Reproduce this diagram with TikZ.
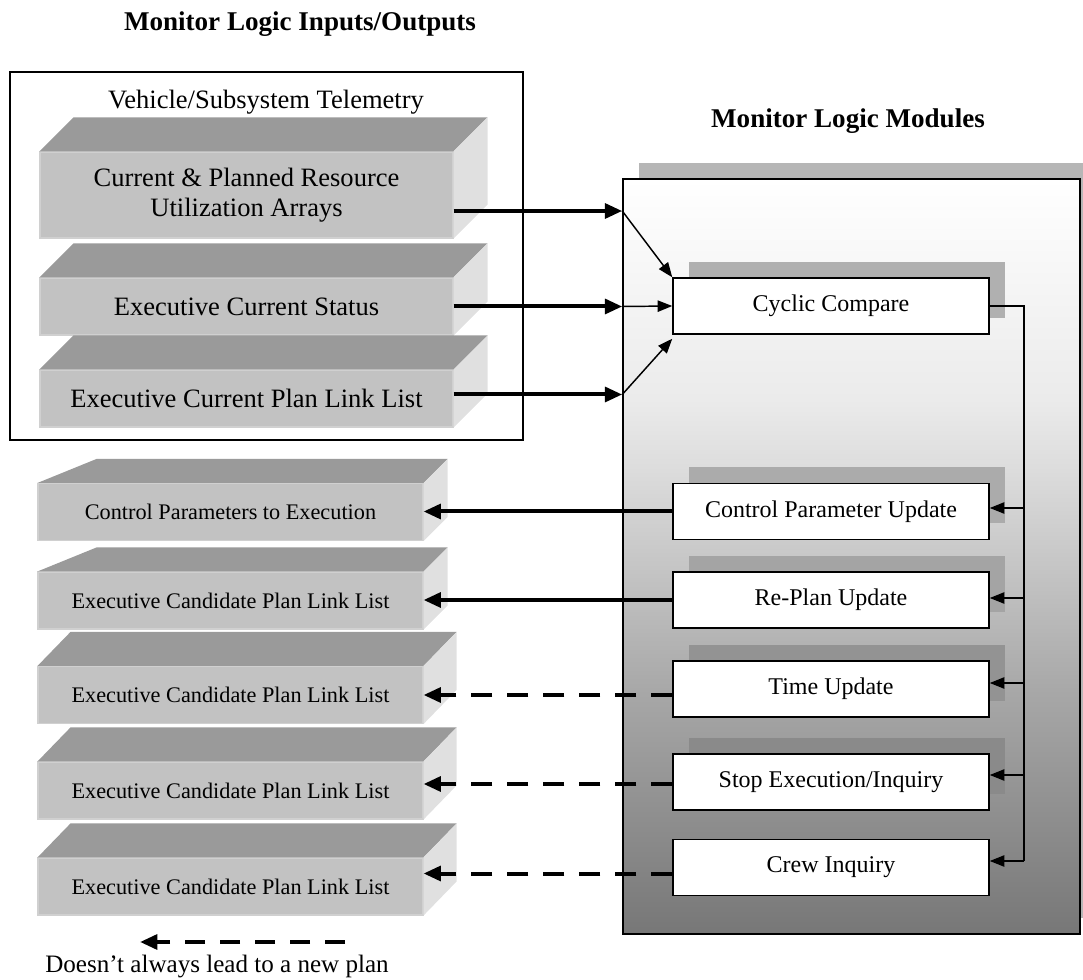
\documentclass[tikz,border=0pt]{standalone}
\usepackage{fontspec}
\setmainfont{Liberation Serif}
\usetikzlibrary{arrows.meta,calc,shadows}
\definecolor{topc}{HTML}{9A9A9A}
\definecolor{frontc}{HTML}{C2C2C2}
\definecolor{frontedge}{HTML}{D0D0D0}
\definecolor{sidec}{HTML}{E0E0E0}
\definecolor{pshadow}{HTML}{B6B6B6}
\definecolor{shA}{HTML}{B0B0B0}
\definecolor{shB}{HTML}{ABABAB}
\definecolor{shC}{HTML}{A4A4A4}
\definecolor{shD}{HTML}{939393}
\definecolor{shE}{HTML}{8A8A8A}
\definecolor{gA}{HTML}{777777}
\definecolor{gB}{HTML}{A8A8A8}
\definecolor{gC}{HTML}{DCDCDC}
\definecolor{gD}{HTML}{EBEBEB}
\definecolor{gE}{HTML}{FFFFFF}
\pgfdeclareverticalshading{panelshade}{100bp}{color(0bp)=(gA); color(25bp)=(gA); color(41.2bp)=(gB); color(55.7bp)=(gC); color(60.4bp)=(gD); color(75bp)=(gE); color(100bp)=(gE)}
\newcommand\fsTop{\fontsize{19.9pt}{22.5pt}\selectfont}
\newcommand\fsTitle{\bfseries\fontsize{20.3pt}{24pt}\selectfont}
\newcommand\fsLow{\fontsize{16.7pt}{20pt}\selectfont}
\newcommand\fsMod{\fontsize{18pt}{21pt}\selectfont}
\newcommand\fsLeg{\fontsize{18.8pt}{22pt}\selectfont}
\newcommand\slabfaces[4]{%
  \fill[topc] (#1.north west) -- ++(#2,-#4) -- ($(#1.north east)+(#3,-#4)$) -- (#1.north east) -- cycle;
  \fill[sidec] (#1.north east) -- ++(#3,-#4) -- ($(#1.south east)+(#3,-#4)$) -- (#1.south east) -- cycle;}
\begin{document}
\begin{tikzpicture}[x=0.75pt,y=-0.75pt,
  front/.style={fill=frontc, draw=frontedge, line width=0.8pt, inner sep=0pt, align=center},
  topslab/.style={front, minimum width=309.75pt, font=\fsTop},
  lowslab/.style={front, minimum width=288.75pt, minimum height=42.75pt, font=\fsLow},
  module/.style={draw=black, line width=1.1pt, fill=white, minimum width=237pt,
    minimum height=42pt, inner sep=0pt, font=\fsMod},
  msh/.style={drop shadow={shadow xshift=12pt, shadow yshift=12pt, fill=#1, opacity=1, draw=none}},
  tarrow/.style={line width=3pt, -{Triangle[length=13pt,width=11pt]}},
  darrow/.style={tarrow, dash pattern=on 16pt off 11pt},
  larrow/.style={tarrow, dash pattern=on 15pt off 11.25pt},
  wire/.style={line width=1.1pt},
  warrow/.style={wire, -{Triangle[length=11pt,width=8.5pt]}},
  title/.style={font=\fsTitle}]
\useasboundingbox (0,0) rectangle (1083,980);

% titles
\node[title] (t1) at (300,24) {Monitor Logic Inputs/Outputs};
\node[title] (t2) at (848,121) {Monitor Logic Modules};

% input frame
\node[draw, line width=1.1pt, minimum width=384.75pt, minimum height=276pt, inner sep=0pt] (F) at (266.5,256) {};
\node[font=\fsTop] (veh) at (266,102) {Vehicle/Subsystem Telemetry};

% top slabs
\node[topslab, minimum height=64.5pt] (A) at (246.5,195) {Current \& Planned Resource\\Utilization Arrays};
\slabfaces{A}{34}{34}{34}
\node[topslab, minimum height=42.75pt] (B) at (246.5,306.5) {Executive Current Status};
\slabfaces{B}{34}{34}{34}
\node[topslab, minimum height=42.75pt] (C) at (246.5,398.5) {Executive Current Plan Link List};
\slabfaces{C}{34}{34}{34}

% lower slabs
\node[lowslab] (L1) at (230.5,512) {Control Parameters to Execution};
\slabfaces{L1}{59}{24}{24}
\node[lowslab] (L2) at (230.5,600.5) {Executive Candidate Plan Link List};
\slabfaces{L2}{59}{24}{24}
\node[lowslab] (L3) at (230.5,695) {Executive Candidate Plan Link List};
\slabfaces{L3}{33}{33}{34}
\node[lowslab] (L4) at (230.5,790.5) {Executive Candidate Plan Link List};
\slabfaces{L4}{33}{33}{34}
\node[lowslab] (L5) at (230.5,886.5) {Executive Candidate Plan Link List};
\slabfaces{L5}{33}{33}{34}

% module panel
\node[draw=black, line width=1.1pt, shade, shading=panelshade,
  minimum width=342.75pt, minimum height=566.25pt, inner sep=0pt,
  drop shadow={shadow xshift=12pt, shadow yshift=12pt, fill=pshadow, opacity=1, draw=none}] (P) at (851.5,556.5) {};

% modules
\node[module, msh=shA] (CC)  at (831,306)   {Cyclic Compare};
\node[module, msh=shB] (CPU) at (831,511.5) {Control Parameter Update};
\node[module, msh=shC] (RP)  at (831,600)   {Re-Plan Update};
\node[module, msh=shD] (TU)  at (831,689)   {Time Update};
\node[module, msh=shE] (SE)  at (831,782)   {Stop Execution/Inquiry};
\node[module] (CI)  at (831,867.5) {Crew Inquiry};

% inputs to panel
\path ($(A.east)+(0,16)$) coordinate (a1);
\draw[tarrow] (a1) -- (a1 -| P.west) coordinate (i1);
\draw[tarrow] (B.east) -- (B.east -| P.west) coordinate (i2);
\path ($(C.east)+(0,-4)$) coordinate (a3);
\draw[tarrow] (a3) -- (a3 -| P.west) coordinate (i3);
\draw[warrow] (i1) -- (CC.north west);
\draw[warrow] (i2) -- (CC.west);
\draw[warrow] (i3) -- ($(CC.south west)+(0,4)$);

% outputs
\draw[tarrow] (CPU.west) -- (CPU.west -| L1.east);
\draw[tarrow] (RP.west) -- (RP.west -| L2.east);
\draw[darrow] (L3.east -| TU.west) -- (L3.east);
\path ($(SE.west)+(0,2)$) coordinate (o4);
\draw[darrow] (o4) -- (o4 -| L4.east);
\path ($(CI.west)+(0,6)$) coordinate (o5);
\draw[darrow] (o5) -- (o5 -| L5.east);

% bus on the right
\coordinate (bx) at (1024,306);
\path ($(CPU.east)+(0,-3.5)$) coordinate (n1);
\path ($(RP.east)+(0,-2)$) coordinate (n2);
\path ($(TU.east)+(0,-6)$) coordinate (n3);
\path ($(SE.east)+(0,-7)$) coordinate (n4);
\path ($(CI.east)+(0,-6.5)$) coordinate (n5);
\draw[wire] (CC.east) -- (bx) -- (bx |- n5);
\draw[warrow] (bx |- n1) -- (n1);
\draw[warrow] (bx |- n2) -- (n2);
\draw[warrow] (bx |- n3) -- (n3);
\draw[warrow] (bx |- n4) -- (n4);
\draw[warrow] (bx |- n5) -- (n5);

% legend
\coordinate (lg1) at (345,942);
\coordinate (lg2) at (140,942);
\draw[larrow] (lg1) -- (lg2);
\node[font=\fsLeg] (leg) at (217,967) {Doesn't always lead to a new plan};
\end{tikzpicture}
\end{document}
